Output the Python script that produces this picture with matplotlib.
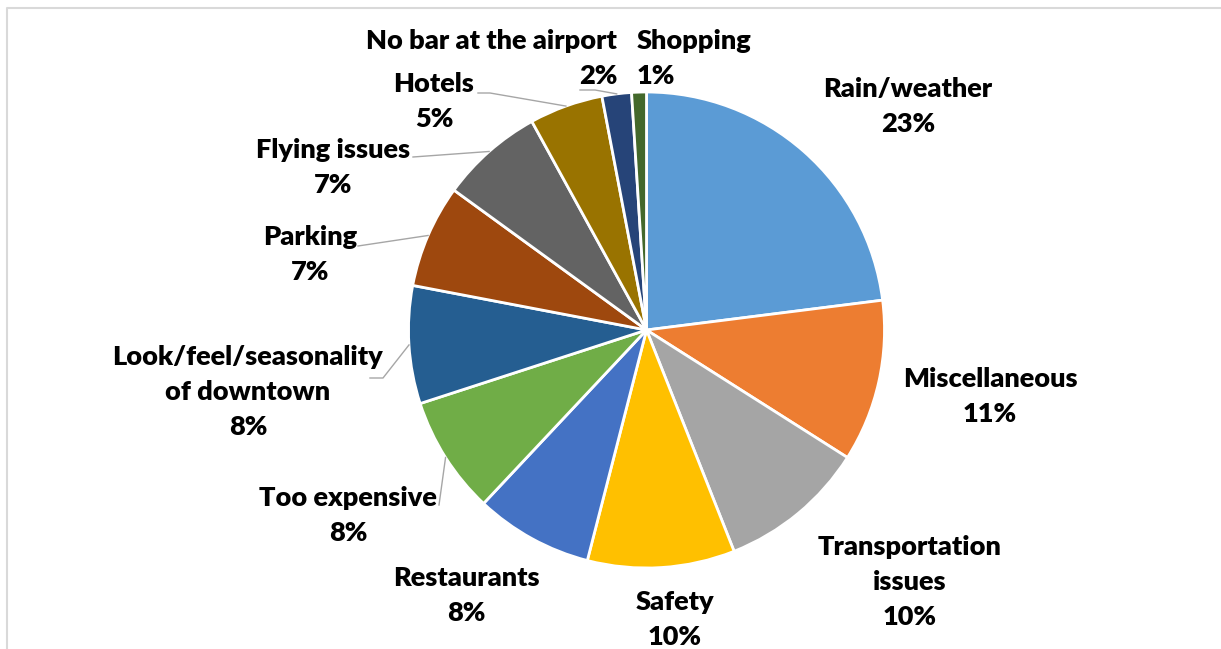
import numpy as np
import matplotlib
matplotlib.use("Agg")
import matplotlib.pyplot as plt

categories = ["Rain/weather", "Miscellaneous", "Transportation\nissues", "Safety",
              "Restaurants", "Too expensive", "Look/feel/seasonality\nof downtown",
              "Parking", "Flying issues", "Hotels", "No bar at the airport", "Shopping"]
shares = [23, 11, 10, 10, 8, 8, 8, 7, 7, 5, 2, 1]
colors = ["#5B9BD5", "#ED7D31", "#A5A5A5", "#FFC000", "#4472C4", "#70AD47",
          "#255E91", "#9E480E", "#636363", "#997300", "#264478", "#43682B"]

W, H = 1221, 649
cx, cy, r = 646.5, H - 330, 238
step = 35  # line pitch of the labels, px

# label anchor (x, first-line y from top), alignment, and optional leader elbow
label_pos = [
    (908, 89, "center", None),
    (990, 379, "center", None),
    (910, 547, "center", None),
    (675, 602, "center", None),
    (466, 578, "center", None),
    (348, 498, "center", [(439, 505)]),
    (248, 357, "center", [(370, 378), (383, 378)]),
    (310, 237, "center", [(358, 246)]),
    (333, 150, "center", [(413, 157)]),
    (434, 84, "center", [(478, 93), (490, 93)]),
    (617, 41, "right", [(580, 90), (595, 90)]),
    (637, 41, "left", None),
]

plt.rcParams["font.family"] = ["Lato", "DejaVu Sans"]
fig = plt.figure(figsize=(W / 100, H / 100), dpi=100)
ax = fig.add_axes([0, 0, 1, 1])

wedges, _ = ax.pie(shares, colors=colors, startangle=90, counterclock=False,
                   center=(cx, cy), radius=r,
                   wedgeprops=dict(edgecolor="white", linewidth=2))

for w, name, val, (lx, ly, ha, elbow) in zip(wedges, categories, shares, label_pos):
    lines = name.split("\n") + [f"{val}%"]
    for i, line in enumerate(lines):
        ax.text(lx, H - ly - i * step, line, ha=ha, va="center", fontsize=19.5,
                fontweight="heavy", color="black")
    if elbow:
        mid = np.deg2rad((w.theta1 + w.theta2) / 2)
        pts = [(x, H - y) for x, y in elbow] + [(cx + r * np.cos(mid), cy + r * np.sin(mid))]
        xs, ys = zip(*pts)
        ax.plot(xs, ys, color="#A6A6A6", lw=1)

# chart border
ax.plot([7, 7, W + 5], [-5, H - 8, H - 8], color="#D9D9D9", lw=1.5)

ax.set_xlim(0, W)
ax.set_ylim(0, H)
ax.set_aspect("equal")
ax.axis("off")
fig.savefig("out.png", dpi=100)
